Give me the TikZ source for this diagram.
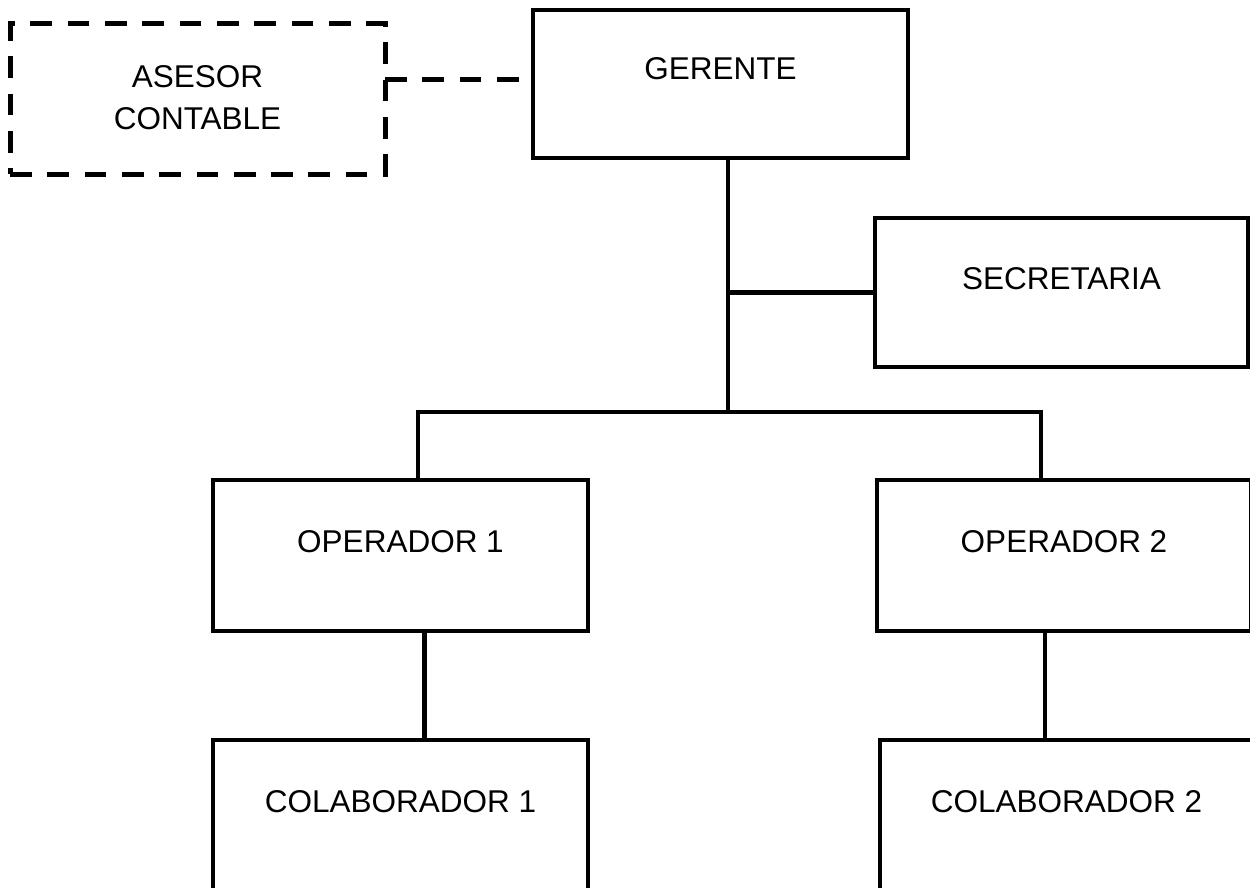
\documentclass[tikz,border=0pt]{standalone}
\usepackage{fontspec}
\setmainfont{Liberation Sans}
\begin{document}
\begin{tikzpicture}[x=1pt,y=-1pt,
  box/.style={draw=black, line width=4.8pt, rectangle, outer sep=0pt, inner sep=0pt},
  dbox/.style={box, line width=5pt, dash pattern=on 21.7pt off 15.6pt},
  lbl/.style={font=\fontsize{31.5}{38}\selectfont, inner sep=0pt, anchor=base, text=black},
  link/.style={draw=black, line width=4.6pt},
  dlink/.style={link, line width=5pt, dash pattern=on 21.7pt off 15.6pt}]
\useasboundingbox (0,0) rectangle (1250,888);
\clip (0,0) rectangle (1250,888);
\fill[white] (0,0) rectangle (1250,888);

% boxes
\node[dbox, minimum width=375pt, minimum height=150pt] (as)   at (197.5,99)   {};
\node[box,  minimum width=375pt, minimum height=148pt] (ger)  at (720.5,84)   {};
\node[box,  minimum width=373pt, minimum height=149pt] (sec)  at (1061.5,292.5) {};
\node[box,  minimum width=375pt, minimum height=151pt] (op1)  at (400.5,555.5) {};
\node[box,  minimum width=374pt, minimum height=151pt] (op2)  at (1064,555.5)  {};
\node[box,  minimum width=375pt, minimum height=150pt] (col1) at (400.5,815)   {};
\node[box,  minimum width=373pt, minimum height=150pt] (col2) at (1066.5,815)  {};

% labels
\node[lbl] (asT1)  at ([yshift=-64pt]as.north)   {ASESOR};
\node[lbl] (asT2)  at ([yshift=-106pt]as.north)  {CONTABLE};
\node[lbl] (gerT)  at ([yshift=-70pt]ger.north)  {GERENTE};
\node[lbl] (secT)  at ([yshift=-71pt]sec.north)  {SECRETARIA};
\node[lbl] (op1T)  at ([yshift=-72pt]op1.north)  {OPERADOR 1};
\node[lbl] (op2T)  at ([yshift=-72pt]op2.north)  {OPERADOR 2};
\node[lbl] (col1T) at ([yshift=-72pt]col1.north) {COLABORADOR 1};
\node[lbl] (col2T) at ([yshift=-72pt]col2.north) {COLABORADOR 2};

% junction points of the tree
\coordinate (j)    at (728,412);
\coordinate (busL) at (418,412);
\coordinate (busR) at (1041,412);

% connectors
\draw[dlink] ([yshift=19pt]as.east) -- ([yshift=19pt]as.east -| ger.west);
\draw[link] (ger.south -| j) -- (j);
\draw[link] (j |- sec.west) -- (sec.west);
\draw[link] (op1.north -| busL) -- (busL) -- (busR) -- (op2.north -| busR);
\draw[link] ([xshift=24pt]op1.south) -- ([xshift=24pt]op1.south |- col1.north);
\draw[link] ([xshift=-19pt]op2.south) -- ([xshift=-19pt]op2.south |- col2.north);
\end{tikzpicture}
\end{document}
